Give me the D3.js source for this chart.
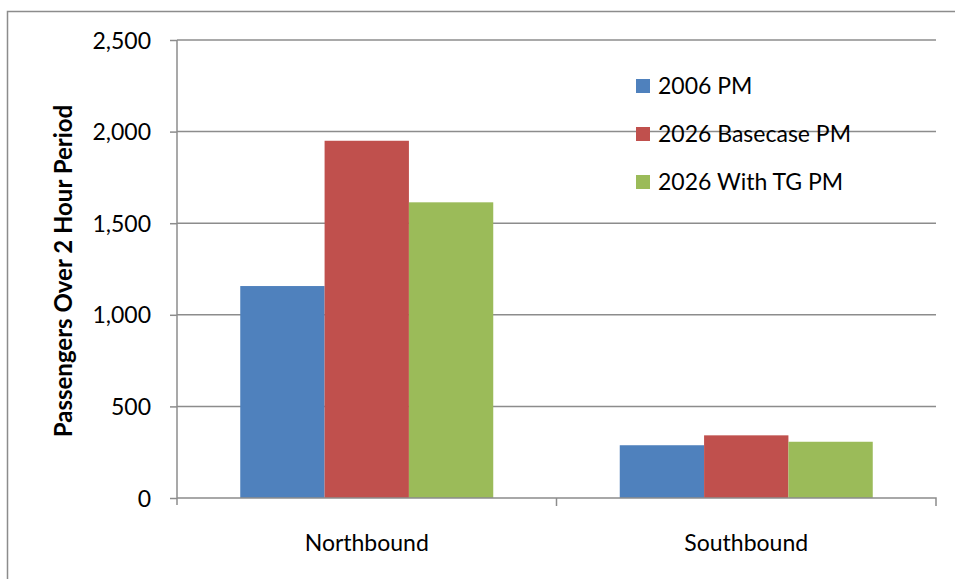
<!DOCTYPE html>
<html>
<head>
<meta charset="utf-8">
<script src="https://cdn.jsdelivr.net/npm/d3@7/dist/d3.min.js"></script>
<style>
  html, body { margin: 0; padding: 0; background: #fff; }
  svg { display: block; font-family: Lato, "Open Sans", sans-serif; }
</style>
</head>
<body>
<svg id="chart" width="955" height="579"></svg>
<script>
// Passenger volumes by direction, per scenario
const categories = ["Northbound", "Southbound"];
const seriesNames = ["2006 PM", "2026 Basecase PM", "2026 With TG PM"];
const seriesColors = ["#4f81bd", "#c0504d", "#9bbb59"];
const values2006 = [1157, 288];
const values2026Base = [1950, 342];
const values2026TG = [1614, 307];
const yTicks = [0, 500, 1000, 1500, 2000, 2500];
const yLabel = "Passengers Over 2 Hour Period";

const seriesValues = [values2006, values2026Base, values2026TG];
const FONT = "Lato, 'Open Sans', sans-serif";
const GREY = "#8c8c8c";

const svg = d3.select("#chart");

// chart frame (top and left edges)
svg.append("path")
  .attr("d", "M7.5,579V11.5H955")
  .attr("fill", "none").attr("stroke", GREY).attr("stroke-width", 1.5);

const plot = { left: 177, right: 936, top: 40, bottom: 498 };

const x = d3.scaleBand()
  .domain(categories)
  .range([plot.left, plot.right])
  .padding(0);

// bars take two thirds of each category band, gap split evenly on both sides
const groupW = x.bandwidth() / 1.5;
const barW = groupW / seriesNames.length;

const y = d3.scaleLinear().domain([0, 2500]).range([plot.bottom, plot.top]);

// horizontal gridlines
svg.append("g")
  .selectAll("line")
  .data(yTicks.filter(d => d > 0))
  .join("line")
  .attr("x1", plot.left).attr("x2", plot.right)
  .attr("y1", d => y(d)).attr("y2", d => y(d))
  .attr("stroke", GREY).attr("stroke-width", 1.5);

// bars
seriesValues.forEach((vals, si) => {
  svg.append("g")
    .selectAll("rect")
    .data(categories.map((c, ci) => ({ c, v: vals[ci] })))
    .join("rect")
    .attr("x", d => x(d.c) + (x.bandwidth() - groupW) / 2 + si * barW)
    .attr("width", barW)
    .attr("y", d => y(d.v))
    .attr("height", d => y(0) - y(d.v))
    .attr("fill", seriesColors[si]);
});

// y axis
const yAxis = d3.axisLeft(y)
  .tickValues(yTicks)
  .tickSize(7)
  .tickPadding(19)
  .tickFormat(d3.format(","));
const gy = svg.append("g")
  .attr("transform", `translate(${plot.left},0)`)
  .call(yAxis);
gy.select(".domain").attr("stroke", GREY).attr("stroke-width", 1.5)
  .attr("d", `M0,${plot.top}V${plot.bottom + 7}`);
gy.selectAll(".tick line").attr("stroke", GREY).attr("stroke-width", 1.5);
gy.selectAll(".tick text")
  .attr("fill", "#000").attr("font-size", 23)
  .attr("font-family", FONT)
  .attr("dy", "0.35em");

// x axis
const xAxis = d3.axisBottom(x).tickSize(0).tickPadding(37);
const gx = svg.append("g")
  .attr("transform", `translate(0,${plot.bottom})`)
  .call(xAxis);
gx.select(".domain").attr("stroke", GREY).attr("stroke-width", 1.5)
  .attr("d", `M${plot.left},0H${plot.right}V8`);
gx.selectAll(".tick text")
  .attr("fill", "#000").attr("font-size", 23)
  .attr("font-family", FONT);
// category boundary ticks
svg.append("g")
  .selectAll("line")
  .data(categories.slice(1))
  .join("line")
  .attr("x1", d => x(d)).attr("x2", d => x(d))
  .attr("y1", plot.bottom).attr("y2", plot.bottom + 8)
  .attr("stroke", GREY).attr("stroke-width", 1.5);

// y axis title
svg.append("text")
  .attr("transform", `translate(72,${(plot.top + plot.bottom) / 2 + 2}) rotate(-90)`)
  .attr("text-anchor", "middle")
  .attr("font-size", 24)
  .attr("font-weight", "bold")
  .attr("font-family", FONT)
  .attr("fill", "#000")
  .text(yLabel);

// legend
const legend = svg.append("g").attr("transform", "translate(636,86)");
seriesNames.forEach((name, i) => {
  const g = legend.append("g").attr("transform", `translate(0,${i * 48})`);
  g.append("rect").attr("x", 0).attr("y", -7).attr("width", 14).attr("height", 14)
    .attr("fill", seriesColors[i]);
  g.append("text").attr("x", 22).attr("y", 0).attr("dy", "0.35em")
    .attr("font-size", 23).attr("font-family", FONT)
    .attr("fill", "#000").text(name);
});
</script>
</body>
</html>
